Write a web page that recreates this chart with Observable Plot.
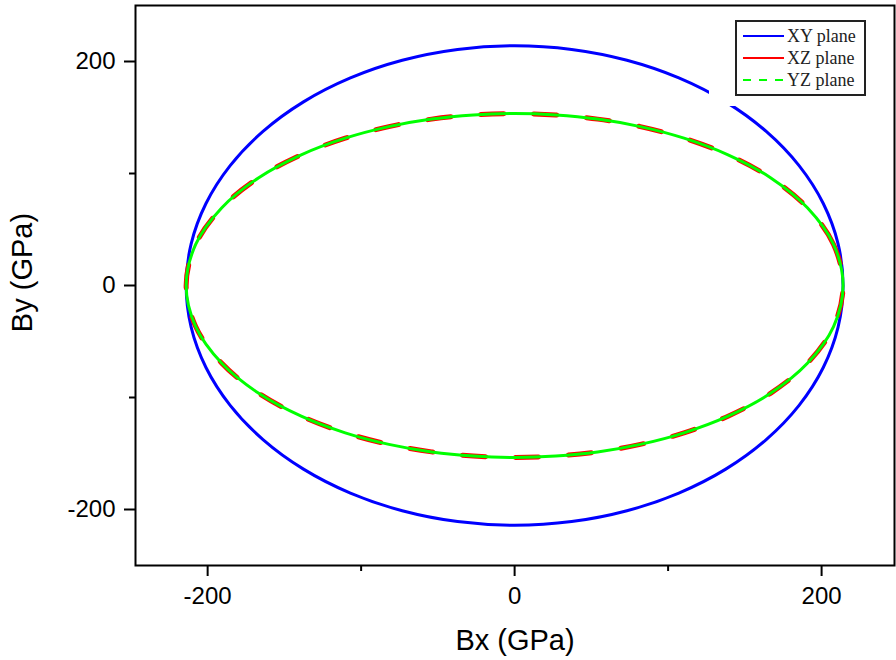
<!DOCTYPE html>
<html>
<head>
<meta charset="utf-8">
<script src="https://cdn.jsdelivr.net/npm/d3@7"></script>
<script src="https://cdn.jsdelivr.net/npm/@observablehq/plot@0.6"></script>
<style>
  html, body { margin: 0; padding: 0; background: #fff; }
  #wrap { position: relative; width: 896px; height: 660px; overflow: hidden; }
  #patch { position: absolute; left: 709px; top: 18px; width: 160px; height: 88px; background: #fff; }
  #legend { position: absolute; left: 735px; top: 20px; width: 127px; height: 72px; border: 2px solid #222; background: #fff;
            font-family: "Liberation Serif", "Times New Roman", serif; font-size: 18px; color: #222; }
  .row { position: absolute; left: 6px; height: 20px; display: flex; align-items: center; }
  .row svg { display: block; margin-right: 3px; }
</style>
</head>
<body>
<div id="wrap"></div>
<script>
// polar angles (degrees) and read-off radii (GPa)
const angles = [0,10,20,30,40,50,60,70,80,90,100,110,120,130,140,150,160,170,180,190,200,210,220,230,240,250,260,270,280,290,300,310,320,330,340,350];
const rXY = [214,214,214,214,214,214,214,214,214,214,214,214,214,214,214,214,214,214,214,214,214,214,214,214,214,214,214,214,214,214,214,214,214,214,214,214];
const rXZ = [214,211,203,192.5,181.5,171.7,163.8,158.1,154.6,153.5,154.6,158.1,163.8,171.7,181.5,192.5,203,211,214,211,203,192.5,181.5,171.7,163.8,158.1,154.6,153.5,154.6,158.1,163.8,171.7,181.5,192.5,203,211];
const rYZ = [214,211,203,192.5,181.5,171.7,163.8,158.1,154.6,153.5,154.6,158.1,163.8,171.7,181.5,192.5,203,211,214,211,203,192.5,181.5,171.7,163.8,158.1,154.6,153.5,154.6,158.1,163.8,171.7,181.5,192.5,203,211];
const seriesNames = ["XY plane", "XZ plane", "YZ plane"];
const xMajor = [-200, 0, 200], xMinor = [-100, 100];
const yMajor = [-200, 0, 200], yMinor = [-100, 100];

function toXY(rs) {
  return angles.map((a, i) => ({
    x: rs[i] * Math.cos(a * Math.PI / 180),
    y: rs[i] * Math.sin(a * Math.PI / 180)
  }));
}
const dXY = toXY(rXY), dXZ = toXY(rXZ), dYZ = toXY(rYZ);

const fmt = d => String(d);
const chart = Plot.plot({
  width: 896, height: 660,
  marginLeft: 135, marginRight: 2, marginTop: 5, marginBottom: 95,
  x: {domain: [-247, 247.5], label: null},
  y: {domain: [-250, 250], label: null},
  style: {fontFamily: "Arial, 'Liberation Sans', sans-serif", fontSize: "24px", color: "#000", background: "#fff"},
  marks: [
    Plot.line(dXY, {x: "x", y: "y", curve: "catmull-rom-closed", stroke: "#0000ff", strokeWidth: 3}),
    Plot.line(dXZ, {x: "x", y: "y", curve: "catmull-rom-closed", stroke: "#ff0000", strokeWidth: 5, strokeDasharray: "23,30"}),
    Plot.line(dYZ, {x: "x", y: "y", curve: "catmull-rom-closed", stroke: "#00ff00", strokeWidth: 3}),
    Plot.frame({stroke: "#000", strokeWidth: 2}),
    Plot.axisX({ticks: xMajor, tickSize: 11, tickPadding: 10, tickFormat: fmt, strokeWidth: 2, fontSize: 24, label: null}),
    Plot.axisX({ticks: xMinor, tickSize: 6, tickFormat: () => "", strokeWidth: 2, label: null}),
    Plot.axisY({ticks: yMajor, tickSize: 11, tickPadding: 9, tickFormat: fmt, strokeWidth: 2, fontSize: 24, label: null}),
    Plot.axisY({ticks: yMinor, tickSize: 6, tickFormat: () => "", strokeWidth: 2, label: null}),
    Plot.text(["Bx (GPa)"], {text: d => d, frameAnchor: "bottom", lineAnchor: "middle", textAnchor: "middle", dy: 75, fontSize: 29, fill: "#000", style: "letter-spacing:0.5px"}),
    Plot.text(["By (GPa)"], {text: d => d, frameAnchor: "left", lineAnchor: "middle", textAnchor: "middle", dx: -113, dy: -13, rotate: -90, fontSize: 29, fill: "#000"})
  ]
});
const wrap = document.getElementById("wrap");
wrap.appendChild(chart);

// legend (HTML overlay)
const patch = document.createElement("div"); patch.id = "patch"; wrap.appendChild(patch);
const leg = document.createElement("div"); leg.id = "legend"; wrap.appendChild(leg);
const legStyles = [
  {color: "#0000ff", dash: null},
  {color: "#ff0000", dash: null},
  {color: "#00ff00", dash: "8,8"}
];
seriesNames.forEach((name, i) => {
  const row = document.createElement("div");
  row.className = "row";
  row.style.top = (4 + i * 22) + "px";
  const s = legStyles[i];
  row.innerHTML = `<svg width="41" height="6"><line x1="0" x2="41" y1="3" y2="3" stroke="${s.color}" stroke-width="2" ${s.dash ? `stroke-dasharray="${s.dash}"` : ""}/></svg><span>${name}</span>`;
  leg.appendChild(row);
});
</script>
</body>
</html>
